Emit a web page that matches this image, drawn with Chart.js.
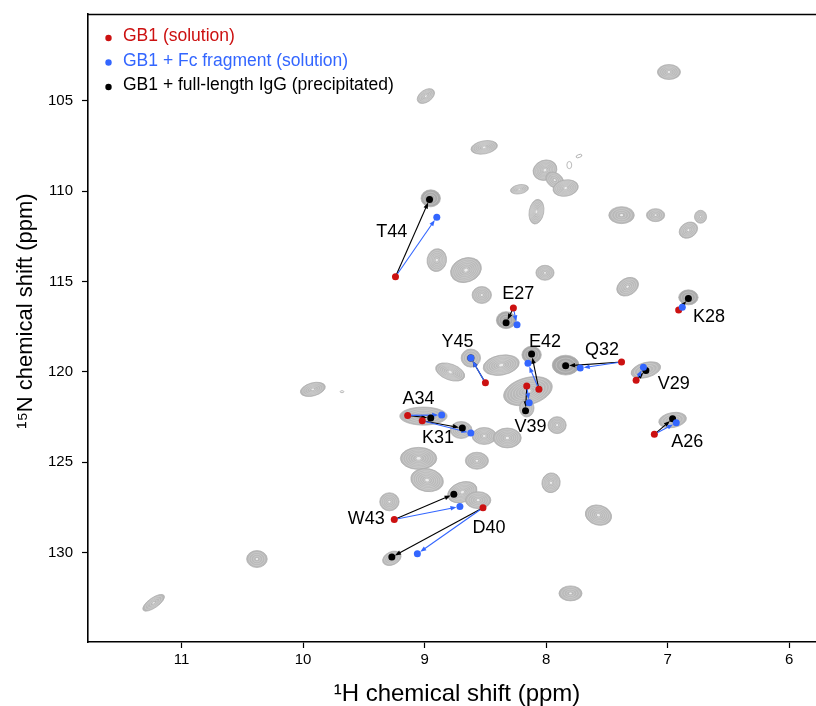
<!DOCTYPE html>
<html>
<head>
<meta charset="utf-8">
<script src="https://cdn.jsdelivr.net/npm/chart.js@4"></script>
<style>
  html, body { margin: 0; padding: 0; background: #fff; }
  #wrap { width: 816px; height: 706px; position: relative; }
</style>
</head>
<body>
<div id="wrap"><canvas id="hsqc"></canvas></div>
<script>
// * assigned residues (ppm)
const residues = ["T44", "E27", "Y45", "E42", "V39", "A34", "K31", "Q32", "K28", "V29", "A26", "W43", "D40"];
const solutionH = [9.24, 8.27, 8.50, 8.06, 8.16, 9.14, 9.02, 7.38, 6.91, 7.26, 7.11, 9.25, 8.52];
const solutionN = [114.74, 116.47, 120.61, 120.97, 120.79, 122.41, 122.71, 119.46, 116.58, 120.46, 123.46, 128.17, 127.52];
const fcH = [8.90, 8.24, 8.62, 8.15, 8.14, 8.86, 8.62, 7.72, 6.88, 7.20, 6.93, 8.71, 9.06];
const fcN = [111.44, 117.40, 119.24, 119.53, 121.71, 122.39, 123.39, 119.79, 116.43, 119.75, 122.82, 127.45, 130.07];
const iggH = [8.96, 8.33, 8.62, 8.12, 8.17, 8.95, 8.69, 7.84, 6.83, 7.18, 6.96, 8.76, 9.27];
const iggN = [110.46, 117.29, 119.24, 119.02, 122.16, 122.56, 123.11, 119.67, 115.94, 119.92, 122.60, 126.77, 130.25];
const labelH = [9.27, 8.23, 8.73, 8.01, 8.13, 9.05, 8.89, 7.54, 6.66, 6.95, 6.84, 9.48, 8.47];
const labelN = [112.25, 115.70, 118.34, 118.34, 123.04, 121.52, 123.68, 118.80, 116.99, 120.66, 123.90, 128.17, 128.66];

// ? precipitated spectrum peaks: centre, linewidth (ppm), tilt (deg), contour levels
const peakH = [8.99, 8.51, 8.01, 7.93, 7.84, 7.81, 7.73, 8.22, 8.08, 8.95,
  8.90, 8.66, 8.01, 8.53, 8.33, 6.99, 7.38, 7.10, 6.83, 6.73,
  7.33, 6.83, 7.84, 7.18, 6.96, 7.91, 8.62, 8.79, 8.37, 8.12,
  8.15, 8.16, 9.01, 8.70, 8.51, 8.32, 9.92, 9.68, 9.05, 8.98,
  8.57, 7.96, 8.69, 8.56, 9.29, 9.27, 7.57, 7.80, 10.38, 11.23];
const peakN = [104.74, 107.58, 108.84, 109.39, 109.83, 108.56, 108.06, 109.90, 111.14, 110.40,
  113.82, 114.37, 114.52, 115.75, 117.14, 103.41, 111.33, 111.33, 112.16, 111.42,
  115.29, 115.88, 119.63, 119.90, 122.67, 122.95, 119.24, 120.01, 119.63, 119.06,
  121.07, 122.00, 122.45, 123.22, 123.55, 123.66, 120.97, 121.10, 124.79, 125.99,
  124.92, 126.14, 126.66, 127.10, 127.19, 130.32, 127.93, 132.26, 130.36, 132.78];
const peakWidthH = [0.16, 0.22, 0.20, 0.16, 0.21, 0.04, 0.05, 0.15, 0.12, 0.16,
  0.16, 0.26, 0.15, 0.16, 0.16, 0.19, 0.21, 0.15, 0.16, 0.10,
  0.19, 0.16, 0.22, 0.25, 0.23, 0.15, 0.16, 0.25, 0.30, 0.16,
  0.41, 0.12, 0.39, 0.18, 0.20, 0.23, 0.21, 0.03, 0.30, 0.27,
  0.19, 0.15, 0.25, 0.21, 0.16, 0.16, 0.22, 0.19, 0.17, 0.21];
const peakWidthN = [0.66, 0.72, 1.10, 0.80, 0.90, 0.40, 0.16, 0.50, 1.38, 0.94,
  1.27, 1.33, 0.83, 0.94, 0.94, 0.83, 0.94, 0.72, 0.83, 0.72,
  0.94, 0.83, 1.10, 0.83, 0.83, 0.94, 1.00, 0.88, 1.10, 0.94,
  1.50, 1.00, 1.00, 0.94, 0.94, 1.10, 0.72, 0.11, 1.22, 1.27,
  0.94, 1.10, 1.10, 0.94, 1.00, 0.72, 1.10, 0.83, 0.94, 0.55];
const peakTilt = [-35, -10, -20, 35, -10, 0, -20, -10, 10, 0,
  10, -20, 0, 0, 0, 0, 0, 0, -30, 0,
  -30, 0, 0, -15, -10, 0, 0, 20, -10, 0,
  -15, 0, 0, 0, 0, 0, -15, 0, 0, 10,
  0, 15, -20, 0, 0, -25, 15, 0, 0, -35];
const peakLevels = [4, 5, 6, 3, 6, 0, 0, 4, 6, 2,
  5, 6, 4, 4, 2, 4, 3, 3, 4, 3,
  4, 2, 2, 3, 3, 4, 3, 6, 6, 2,
  7, 3, 4, 4, 5, 5, 4, 0, 6, 6,
  4, 5, 6, 4, 4, 3, 5, 3, 3, 3];

const xTicks = [6, 7, 8, 9, 10, 11];
const yTicks = [105, 110, 115, 120, 125, 130];
const xTitle = "¹H chemical shift (ppm)";
const yTitle = "¹⁵N chemical shift (ppm)";

const red = "#cc1111";
const blue = "#3366ff";
const black = "#000000";
const fontFamily = "'Liberation Sans', Arial, sans-serif";

const toPoints = (hs, ns) => hs.map((h, i) => ({ x: h, y: ns[i] }));

function ellipsePath(ctx, rx, ry) {
  ctx.beginPath();
  ctx.ellipse(0, 0, Math.max(rx, 0.3), Math.max(ry, 0.3), 0, 0, Math.PI * 2);
}

function drawPeak(ctx, cx, cy, rx, ry, tilt, levels) {
  ctx.save();
  ctx.translate(cx, cy);
  ctx.rotate((tilt * Math.PI) / 180);
  if (levels === 0) {
    ctx.strokeStyle = "#a8a8a8";
    ctx.lineWidth = 0.8;
    ellipsePath(ctx, rx, ry);
    ctx.stroke();
    ctx.restore();
    return;
  }
  // strong, compact peaks look darker
  ctx.fillStyle = levels <= 2 ? "#a9a9a9" : "#b9b9b9";
  ellipsePath(ctx, rx, ry);
  ctx.fill();
  ctx.strokeStyle = "#adadad";
  ctx.lineWidth = 0.7;
  ctx.stroke();
  ctx.strokeStyle = "rgba(235,235,235,0.5)";
  ctx.lineWidth = 0.6;
  for (let k = 1; k <= levels; k++) {
    const f = 1 - k / (levels + 1.5);
    ellipsePath(ctx, rx * f, ry * f);
    ctx.stroke();
  }
  ctx.fillStyle = "rgba(255,255,255,0.75)";
  ellipsePath(ctx, rx * 0.12, ry * 0.12);
  ctx.fill();
  ctx.restore();
}

function drawArrow(ctx, x0, y0, x1, y1, color) {
  const len = Math.hypot(x1 - x0, y1 - y0);
  if (len < 6) return;
  const a = Math.atan2(y1 - y0, x1 - x0);
  const c = Math.cos(a), s = Math.sin(a);
  const ex = x0 + c * (len - 3.5), ey = y0 + s * (len - 3.5);
  ctx.strokeStyle = color;
  ctx.fillStyle = color;
  ctx.lineWidth = 1.1;
  ctx.beginPath();
  ctx.moveTo(x0, y0);
  ctx.lineTo(ex - c * 4, ey - s * 4);
  ctx.stroke();
  ctx.beginPath();
  ctx.moveTo(ex, ey);
  ctx.lineTo(ex - 6 * c + 2.3 * s, ey - 6 * s - 2.3 * c);
  ctx.lineTo(ex - 6 * c - 2.3 * s, ey - 6 * s + 2.3 * c);
  ctx.closePath();
  ctx.fill();
}

const spectrum = {
  id: "spectrum",
  beforeDatasetsDraw(chart) {
    const { ctx, chartArea, scales: { x, y } } = chart;
    ctx.save();
    ctx.beginPath();
    ctx.rect(chartArea.left, chartArea.top, chartArea.width, chartArea.height);
    ctx.clip();
    peakH.forEach((h, i) => {
      const cx = x.getPixelForValue(h);
      const cy = y.getPixelForValue(peakN[i]);
      const rx = Math.abs(x.getPixelForValue(h + peakWidthH[i] / 2) - cx);
      const ry = Math.abs(y.getPixelForValue(peakN[i] + peakWidthN[i] / 2) - cy);
      drawPeak(ctx, cx, cy, rx, ry, peakTilt[i], peakLevels[i]);
    });
    // arrows from solution peak to the shifted ones
    residues.forEach((r, i) => {
      const x0 = x.getPixelForValue(solutionH[i]), y0 = y.getPixelForValue(solutionN[i]);
      drawArrow(ctx, x0, y0, x.getPixelForValue(iggH[i]), y.getPixelForValue(iggN[i]), black);
      drawArrow(ctx, x0, y0, x.getPixelForValue(fcH[i]), y.getPixelForValue(fcN[i]), blue);
    });
    ctx.restore();
  },
  afterDatasetsDraw(chart) {
    const { ctx, scales: { x, y } } = chart;
    ctx.save();
    ctx.font = "18px " + fontFamily;
    ctx.fillStyle = "#000";
    ctx.textAlign = "center";
    ctx.textBaseline = "middle";
    residues.forEach((r, i) => {
      ctx.fillText(r, x.getPixelForValue(labelH[i]), y.getPixelForValue(labelN[i]));
    });
    ctx.restore();
  },
  afterDraw(chart) {
    const { ctx, chartArea } = chart;
    ctx.save();
    // top frame line
    ctx.strokeStyle = "#000";
    ctx.lineWidth = 1.6;
    ctx.beginPath();
    ctx.moveTo(chartArea.left, chartArea.top + 0.5);
    ctx.lineTo(chartArea.right, chartArea.top + 0.5);
    ctx.stroke();
    // axis titles
    ctx.fillStyle = "#000";
    ctx.textAlign = "center";
    ctx.textBaseline = "alphabetic";
    ctx.font = "24px " + fontFamily;
    ctx.fillText(xTitle, 457, 701);
    ctx.translate(32, 311);
    ctx.rotate(-Math.PI / 2);
    ctx.font = "22px " + fontFamily;
    ctx.fillText(yTitle, 0, 0);
    ctx.restore();
    // legend in the corner
    ctx.save();
    ctx.font = "17.5px " + fontFamily;
    ctx.textBaseline = "middle";
    chart.data.datasets.forEach((ds, i) => {
      const ly = chartArea.top + 22.5 + i * 24.5;
      ctx.fillStyle = ds.backgroundColor;
      ctx.beginPath();
      ctx.arc(chartArea.left + 20.5, ly + 1.5, 3.2, 0, Math.PI * 2);
      ctx.fill();
      ctx.fillText(ds.label, chartArea.left + 35, ly);
    });
    ctx.restore();
  },
};

Chart.defaults.font.family = fontFamily;
Chart.defaults.color = "#000";

const chartCanvas = document.getElementById("hsqc").getContext("2d");
const hsqcChart = new Chart(chartCanvas, {
  type: "scatter",
  data: {
    datasets: [
      { label: "GB1 (solution)", data: toPoints(solutionH, solutionN), backgroundColor: red, borderColor: red, order: 2 },
      { label: "GB1 + Fc fragment (solution)", data: toPoints(fcH, fcN), backgroundColor: blue, borderColor: blue, order: 0 },
      { label: "GB1 + full-length IgG (precipitated)", data: toPoints(iggH, iggN), backgroundColor: black, borderColor: black, order: 1 },
    ],
  },
  options: {
    responsive: true,
    maintainAspectRatio: false,
    animation: false,
    layout: { autoPadding: false, padding: { top: 14, right: 0, bottom: 0, left: 0 } },
    elements: { point: { radius: 3.5, borderWidth: 0, hoverRadius: 3.5 } },
    plugins: { legend: { display: false }, tooltip: { enabled: false } },
    scales: {
      x: {
        type: "linear",
        reverse: true,
        min: 5.78,
        max: 11.77,
        afterBuildTicks: (s) => { s.ticks = xTicks.map((v) => ({ value: v })); },
        afterFit: (s) => { s.height = 64; s.paddingLeft = 0; s.paddingRight = 0; },
        grid: { drawOnChartArea: false, tickLength: 6, tickColor: "#000", tickWidth: 1.2 },
        border: { color: "#000", width: 1.6 },
        ticks: { font: { size: 15 }, padding: 3, maxRotation: 0 },
      },
      y: {
        type: "linear",
        reverse: true,
        min: 100.2,
        max: 134.95,
        afterBuildTicks: (s) => { s.ticks = yTicks.map((v) => ({ value: v })); },
        afterFit: (s) => { s.width = 88; s.paddingTop = 0; s.paddingBottom = 0; },
        grid: { drawOnChartArea: false, tickLength: 6, tickColor: "#000", tickWidth: 1.2 },
        border: { color: "#000", width: 1.6 },
        ticks: { font: { size: 15 }, padding: 9 },
      },
    },
  },
  plugins: [spectrum],
});
</script>
</body>
</html>
